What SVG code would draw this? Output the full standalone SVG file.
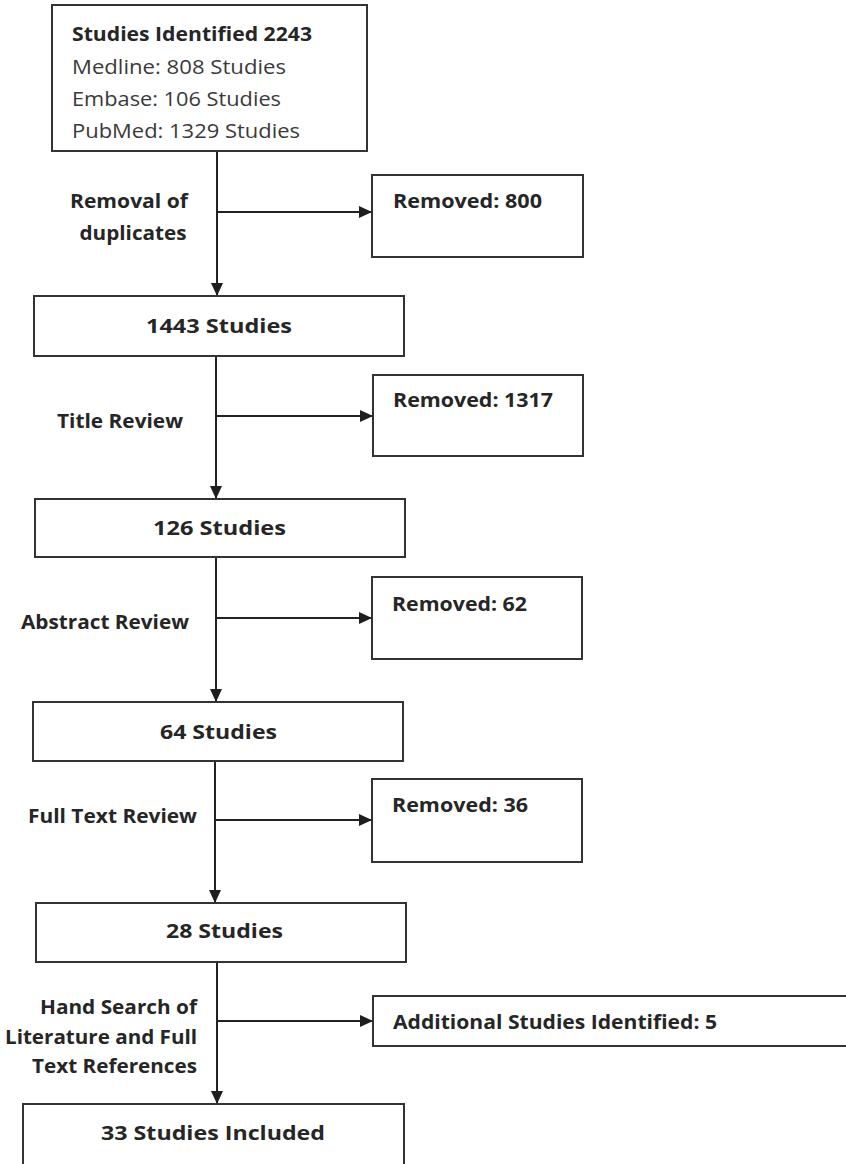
<svg xmlns="http://www.w3.org/2000/svg" width="846" height="1164" viewBox="0 0 846 1164">
<defs>
<marker id="arr" viewBox="0 0 13 12" refX="13" refY="6" markerWidth="13" markerHeight="12" markerUnits="userSpaceOnUse" orient="auto">
<path d="M0,0 L13,6 L0,12 Z" fill="#1e1e1e"/>
</marker>
<style>
.box{fill:#fff;stroke:#333;stroke-width:2}
.t{font-family:"Open Sans","Liberation Sans",sans-serif;font-size:20px;fill:#262626}
.b{font-weight:bold}
.n{font-weight:normal;fill:#3a3a3a}
.c{text-anchor:middle}
.r{text-anchor:end}
.ln{stroke:#222;stroke-width:2;fill:none}
</style>
</defs>
<rect width="846" height="1164" fill="#fff"/>
<g id="connectors">
<path class="ln" d="M217,151 V296" marker-end="url(#arr)"/>
<path class="ln" d="M217,212 H372" marker-end="url(#arr)"/>
<path class="ln" d="M216,356 V499" marker-end="url(#arr)"/>
<path class="ln" d="M216,416 H373" marker-end="url(#arr)"/>
<path class="ln" d="M216,557 V702" marker-end="url(#arr)"/>
<path class="ln" d="M216,618 H372" marker-end="url(#arr)"/>
<path class="ln" d="M215,761 V903" marker-end="url(#arr)"/>
<path class="ln" d="M215,820 H372" marker-end="url(#arr)"/>
<path class="ln" d="M217,962 V1104" marker-end="url(#arr)"/>
<path class="ln" d="M217,1021 H373" marker-end="url(#arr)"/>
</g>
<g id="labels">
<text class="t b c" x="129" y="208" textLength="118" lengthAdjust="spacingAndGlyphs">Removal of</text>
<text class="t b c" x="133" y="240" textLength="107" lengthAdjust="spacingAndGlyphs">duplicates</text>
<text class="t b" x="57" y="428" textLength="126" lengthAdjust="spacingAndGlyphs">Title Review</text>
<text class="t b" x="21" y="629" textLength="168" lengthAdjust="spacingAndGlyphs">Abstract Review</text>
<text class="t b" x="28" y="823" textLength="169" lengthAdjust="spacingAndGlyphs">Full Text Review</text>
<text class="t b r" x="197" y="1014" textLength="157" lengthAdjust="spacingAndGlyphs">Hand Search of</text>
<text class="t b r" x="197" y="1044" textLength="192" lengthAdjust="spacingAndGlyphs">Literature and Full</text>
<text class="t b r" x="197" y="1073" textLength="165" lengthAdjust="spacingAndGlyphs">Text References</text>
</g>
<g id="node-identified">
<rect class="box" x="52" y="5" width="315" height="146"/>
<text class="t b" x="72" y="41" textLength="240" lengthAdjust="spacingAndGlyphs">Studies Identified 2243</text>
<text class="t n" x="72" y="74" textLength="214" lengthAdjust="spacingAndGlyphs">Medline: 808 Studies</text>
<text class="t n" x="72" y="106" textLength="209" lengthAdjust="spacingAndGlyphs">Embase: 106 Studies</text>
<text class="t n" x="72" y="138" textLength="228" lengthAdjust="spacingAndGlyphs">PubMed: 1329 Studies</text>
</g>
<g id="node-removed-800">
<rect class="box" x="372" y="175" width="211" height="82"/>
<text class="t b" x="393" y="208" textLength="149" lengthAdjust="spacingAndGlyphs">Removed: 800</text>
</g>
<g id="node-1443">
<rect class="box" x="34" y="296" width="370" height="60"/>
<text class="t b" x="146" y="333" textLength="146" lengthAdjust="spacingAndGlyphs">1443 Studies</text>
</g>
<g id="node-removed-1317">
<rect class="box" x="373" y="375" width="210" height="81"/>
<text class="t b" x="393" y="407" textLength="160" lengthAdjust="spacingAndGlyphs">Removed: 1317</text>
</g>
<g id="node-126">
<rect class="box" x="35" y="499" width="370" height="58"/>
<text class="t b" x="153" y="535" textLength="133" lengthAdjust="spacingAndGlyphs">126 Studies</text>
</g>
<g id="node-removed-62">
<rect class="box" x="372" y="577" width="210" height="82"/>
<text class="t b" x="392" y="611" textLength="135" lengthAdjust="spacingAndGlyphs">Removed: 62</text>
</g>
<g id="node-64">
<rect class="box" x="33" y="702" width="370" height="59"/>
<text class="t b" x="160" y="739" textLength="117" lengthAdjust="spacingAndGlyphs">64 Studies</text>
</g>
<g id="node-removed-36">
<rect class="box" x="372" y="779" width="210" height="83"/>
<text class="t b" x="392" y="812" textLength="136" lengthAdjust="spacingAndGlyphs">Removed: 36</text>
</g>
<g id="node-28">
<rect class="box" x="36" y="903" width="370" height="59"/>
<text class="t b" x="166" y="938" textLength="117" lengthAdjust="spacingAndGlyphs">28 Studies</text>
</g>
<g id="node-additional">
<rect class="box" x="373" y="996" width="480" height="50"/>
<text class="t b" x="393" y="1029" textLength="324" lengthAdjust="spacingAndGlyphs">Additional Studies Identified: 5</text>
</g>
<g id="node-33">
<rect class="box" x="23" y="1104" width="381" height="80"/>
<text class="t b" x="101" y="1140" textLength="224" lengthAdjust="spacingAndGlyphs">33 Studies Included</text>
</g>
</svg>
